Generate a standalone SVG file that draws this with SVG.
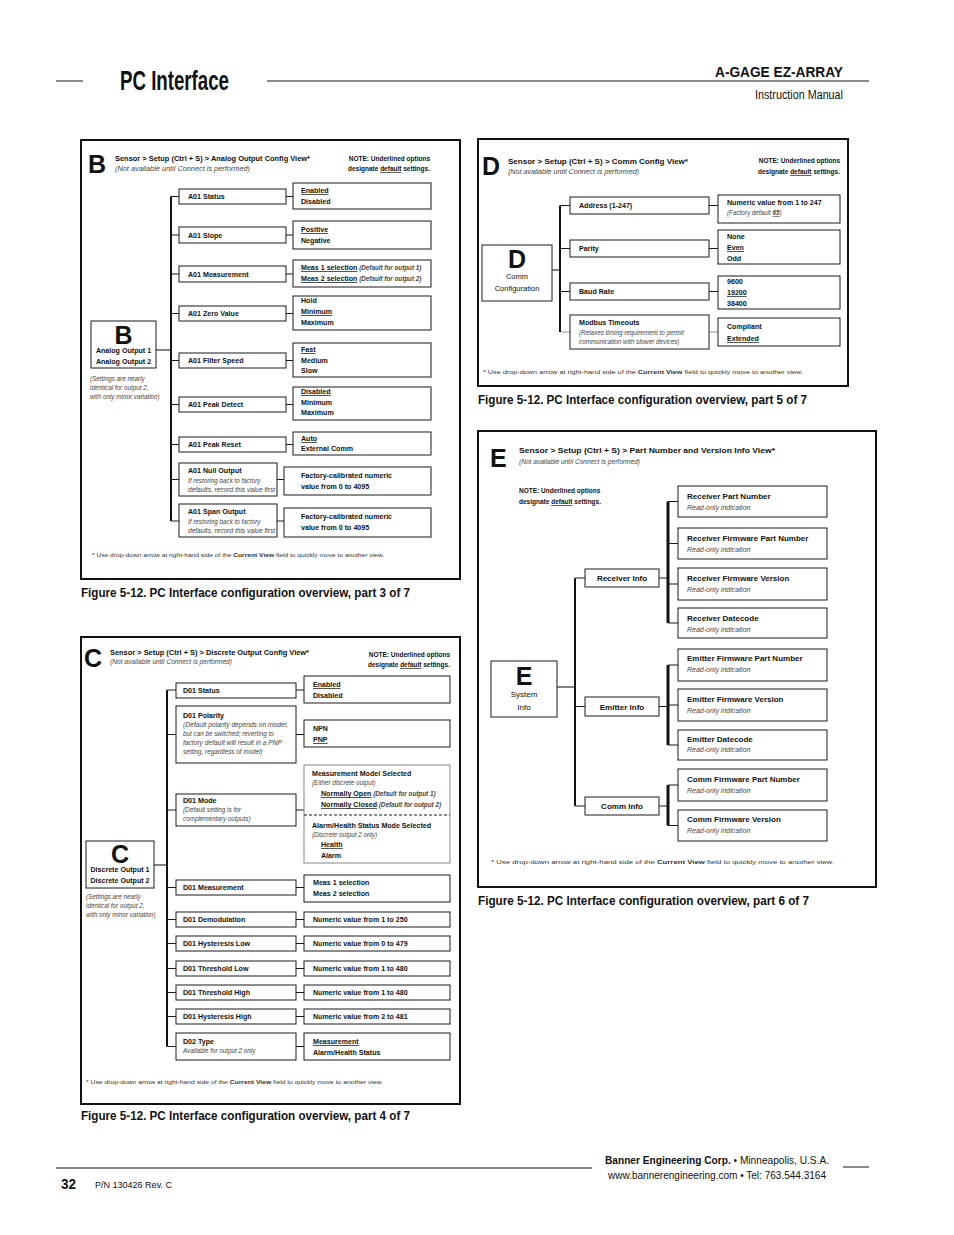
<svg xmlns="http://www.w3.org/2000/svg" width="954" height="1235" viewBox="0 0 954 1235">
<style>
text{font-family:"Liberation Sans",Arial,Helvetica,sans-serif;fill:#111}
.pb{fill:#fff;stroke:#111;stroke-width:2}
.bx{fill:#fff;stroke:#1a1a1a;stroke-width:1}
.gb{fill:#fff;stroke:#888;stroke-width:1}
.ln{stroke:#1a1a1a;stroke-width:1.1;fill:none}
.gl{stroke:#999;stroke-width:1.1;fill:none}
.tk{stroke:#111;stroke-width:2;fill:none}
.tk3{stroke:#111;stroke-width:3;fill:none}
.rule{stroke:#888;stroke-width:2}
.t{font-size:7.1px;font-weight:bold}
.t8{font-size:8px;font-weight:bold}
.i{font-size:6.3px;font-style:italic;fill:#444}
.i7{font-size:7px;font-style:italic;fill:#444}
.h{font-size:6.5px;font-weight:bold}
.big{font-size:25px;font-weight:bold;fill:#111}
.cap{font-size:12.5px;font-weight:bold;fill:#111}
.fn{font-size:5.8px;fill:#333}
.u{text-decoration:underline}
.b{font-weight:bold}
</style>

<!-- Header -->
<g id="header">
<line class="rule" x1="56" y1="81" x2="83" y2="81"/>
<text x="120" y="90" font-size="28" font-weight="bold" textLength="109" lengthAdjust="spacingAndGlyphs">PC Interface</text>
<line class="rule" x1="267" y1="81" x2="869" y2="81"/>
<text x="715" y="77" font-size="15" font-weight="bold" textLength="128" lengthAdjust="spacingAndGlyphs">A-GAGE EZ-ARRAY</text>
<text x="755" y="99" font-size="12" textLength="88" lengthAdjust="spacingAndGlyphs">Instruction Manual</text>
</g>

<!-- ================= Panel B ================= -->
<g id="panelB">
<rect class="pb" x="81" y="140" width="379" height="439"/>
<text class="big" x="88" y="173">B</text>
<text class="h" x="115" y="161" textLength="195" lengthAdjust="spacingAndGlyphs">Sensor &gt; Setup (Ctrl + S) &gt; Analog Output Config View*</text>
<text class="i" x="115" y="171" textLength="135" lengthAdjust="spacingAndGlyphs">(Not available until Connect is performed)</text>
<text class="h" x="430" y="161" text-anchor="end">NOTE: Underlined options</text>
<text class="h" x="430" y="171" text-anchor="end">designate <tspan class="u">default</tspan> settings.</text>
<text class="fn" x="92" y="557" textLength="292" lengthAdjust="spacingAndGlyphs">* Use drop-down arrow at right-hand side of the <tspan class="b">Current View</tspan> field to quickly move to another view.</text>
</g>
<text class="cap" x="81" y="597" textLength="329" lengthAdjust="spacingAndGlyphs">Figure 5-12.  PC Interface configuration overview, part 3 of 7</text>

<g id="connectorsB">
<line class="ln" x1="156" y1="350" x2="171" y2="350"/>
<line class="tk" x1="171" y1="196.5" x2="171" y2="521"/>
<path class="ln" d="M171 196.5H179M286 196.5H293M171 235H179M286 235H293M171 274H179M286 274H293M171 313.5H179M286 313.5H293M171 360.5H179M286 360.5H293M171 404.5H179M286 404.5H293M171 444.5H179M286 444.5H293M171 479.5H179M277 479.5H284M171 521H179M277 521H284"/>
</g>

<g id="B-root">
<rect class="bx" x="91" y="321" width="65" height="47"/>
<text class="big" x="123.5" y="344" text-anchor="middle">B</text>
<text class="t" x="123.5" y="353" text-anchor="middle">Analog Output 1</text>
<text class="t" x="123.5" y="364" text-anchor="middle">Analog Output 2</text>
<text class="i" x="90" y="381">(Settings are nearly</text>
<text class="i" x="90" y="390">identical for output 2,</text>
<text class="i" x="90" y="399">with only minor variation)</text>
</g>
<g id="B-status"><rect class="bx" x="179" y="189" width="107" height="15"/><text class="t" x="188" y="199">A01 Status</text></g>
<g id="B-status-v"><rect class="bx" x="293" y="183" width="138" height="26"/><text class="t" x="301" y="193"><tspan class="u">Enabled</tspan></text><text class="t" x="301" y="204">Disabled</text></g>
<g id="B-slope"><rect class="bx" x="179" y="227" width="107" height="16"/><text class="t" x="188" y="238">A01 Slope</text></g>
<g id="B-slope-v"><rect class="bx" x="293" y="221" width="138" height="28"/><text class="t" x="301" y="232"><tspan class="u">Positive</tspan></text><text class="t" x="301" y="243">Negative</text></g>
<g id="B-meas"><rect class="bx" x="179" y="266" width="107" height="16"/><text class="t" x="188" y="277">A01 Measurement</text></g>
<g id="B-meas-v"><rect class="bx" x="293" y="260" width="138" height="27"/><text class="t" x="301" y="270"><tspan class="u">Meas 1 selection</tspan><tspan class="i" font-size="5.6"> (Default for output 1)</tspan></text><text class="t" x="301" y="281"><tspan class="u">Meas 2 selection</tspan><tspan class="i" font-size="5.6"> (Default for output 2)</tspan></text></g>
<g id="B-zero"><rect class="bx" x="179" y="306" width="107" height="15"/><text class="t" x="188" y="316">A01 Zero Value</text></g>
<g id="B-zero-v"><rect class="bx" x="293" y="296" width="138" height="34"/><text class="t" x="301" y="303">Hold</text><text class="t" x="301" y="314"><tspan class="u">Minimum</tspan></text><text class="t" x="301" y="325">Maximum</text></g>
<g id="B-filter"><rect class="bx" x="179" y="353" width="107" height="15"/><text class="t" x="188" y="363">A01 Filter Speed</text></g>
<g id="B-filter-v"><rect class="bx" x="293" y="343" width="138" height="34"/><text class="t" x="301" y="352"><tspan class="u">Fast</tspan></text><text class="t" x="301" y="363">Medium</text><text class="t" x="301" y="373">Slow</text></g>
<g id="B-peakd"><rect class="bx" x="179" y="397" width="107" height="15"/><text class="t" x="188" y="407">A01 Peak Detect</text></g>
<g id="B-peakd-v"><rect class="bx" x="293" y="387" width="138" height="33"/><text class="t" x="301" y="394"><tspan class="u">Disabled</tspan></text><text class="t" x="301" y="405">Minimum</text><text class="t" x="301" y="415">Maximum</text></g>
<g id="B-peakr"><rect class="bx" x="179" y="437" width="107" height="15"/><text class="t" x="188" y="447">A01 Peak Reset</text></g>
<g id="B-peakr-v"><rect class="bx" x="293" y="432" width="138" height="23"/><text class="t" x="301" y="441"><tspan class="u">Auto</tspan></text><text class="t" x="301" y="451">External Comm</text></g>
<g id="B-null"><rect class="bx" x="179" y="463" width="98" height="33"/><text class="t" x="188" y="473">A01 Null Output</text><text class="i" x="188" y="483">If restoring back to factory</text><text class="i" x="188" y="492" textLength="87" lengthAdjust="spacingAndGlyphs">defaults, record this value first</text></g>
<g id="B-null-v"><rect class="bx" x="284" y="467" width="147" height="28"/><text class="t" x="301" y="478">Factory-calibrated numeric</text><text class="t" x="301" y="489">value from 0 to 4095</text></g>
<g id="B-span"><rect class="bx" x="179" y="504" width="98" height="33"/><text class="t" x="188" y="514">A01 Span Output</text><text class="i" x="188" y="524">If restoring back to factory</text><text class="i" x="188" y="533" textLength="87" lengthAdjust="spacingAndGlyphs">defaults, record this value first</text></g>
<g id="B-span-v"><rect class="bx" x="284" y="508" width="147" height="29"/><text class="t" x="301" y="519">Factory-calibrated numeric</text><text class="t" x="301" y="530">value from 0 to 4095</text></g>

<!-- ================= Panel D ================= -->
<g id="panelD">
<rect class="pb" x="478" y="139" width="370" height="247"/>
<text class="big" x="482" y="175">D</text>
<text class="h" x="508" y="164" textLength="180" lengthAdjust="spacingAndGlyphs">Sensor &gt; Setup (Ctrl + S) &gt; Comm Config View*</text>
<text class="i" x="508" y="174" textLength="131" lengthAdjust="spacingAndGlyphs">(Not available until Connect is performed)</text>
<text class="h" x="840" y="163" text-anchor="end">NOTE: Underlined options</text>
<text class="h" x="840" y="174" text-anchor="end">designate <tspan class="u">default</tspan> settings.</text>
<text class="fn" x="483" y="374" textLength="320" lengthAdjust="spacingAndGlyphs">* Use drop-down arrow at right-hand side of the <tspan class="b">Current View</tspan> field to quickly move to another view.</text>
</g>
<text class="cap" x="478" y="404" textLength="329" lengthAdjust="spacingAndGlyphs">Figure 5-12.  PC Interface configuration overview, part 5 of 7</text>

<g id="connectorsD">
<line class="ln" x1="552" y1="270" x2="560" y2="270"/>
<line class="tk" x1="560" y1="205.5" x2="560" y2="332"/>
<path class="ln" d="M560 205.5H570M709 205.5H718M560 248.5H570M709 248.5H718M560 291.5H570M709 291.5H718"/>
<path class="gl" d="M561 332H570M709 332H718"/>
</g>

<g id="D-root">
<rect class="bx" x="482" y="245" width="70" height="56"/>
<text class="big" x="517" y="268" text-anchor="middle">D</text>
<text x="517" y="279" text-anchor="middle" font-size="7.5">Comm</text>
<text x="517" y="291" text-anchor="middle" font-size="7.5">Configuration</text>
</g>
<g id="D-address"><rect class="bx" x="570" y="197" width="139" height="17"/><text class="t" x="579" y="208" font-size="7.5">Address (1-247)</text></g>
<g id="D-address-v"><rect class="bx" x="718" y="195" width="122" height="28"/><text class="t" x="727" y="205" font-size="7.5">Numeric value from 1 to 247</text><text class="i" x="727" y="215">(Factory default <tspan class="u b">65</tspan>)</text></g>
<g id="D-parity"><rect class="bx" x="570" y="240" width="139" height="17"/><text class="t" x="579" y="251" font-size="7.5">Parity</text></g>
<g id="D-parity-v"><rect class="bx" x="718" y="230" width="122" height="34"/><text class="t" x="727" y="239">None</text><text class="t" x="727" y="250"><tspan class="u">Even</tspan></text><text class="t" x="727" y="261">Odd</text></g>
<g id="D-baud"><rect class="bx" x="570" y="283" width="139" height="17"/><text class="t" x="579" y="294" font-size="7.5">Baud Rate</text></g>
<g id="D-baud-v"><rect class="bx" x="718" y="276" width="122" height="33"/><text class="t" x="727" y="284">9600</text><text class="t" x="727" y="295"><tspan class="u">19200</tspan></text><text class="t" x="727" y="306">38400</text></g>
<g id="D-modbus"><rect class="bx" x="570" y="315" width="139" height="34"/><text class="t" x="579" y="325" font-size="7.5">Modbus Timeouts</text><text class="i" x="579" y="335">(Relaxes timing requirement to permit</text><text class="i" x="579" y="344">communication with slower devices)</text></g>
<g id="D-modbus-v"><rect class="bx" x="718" y="318" width="122" height="28"/><text class="t" x="727" y="329">Compliant</text><text class="t" x="727" y="341"><tspan class="u">Extended</tspan></text></g>

<!-- ================= Panel E ================= -->
<g id="panelE">
<rect class="pb" x="478" y="431" width="398" height="456"/>
<text class="big" x="490" y="467">E</text>
<text class="h" x="519" y="453" font-size="7.3" textLength="256" lengthAdjust="spacingAndGlyphs">Sensor &gt; Setup (Ctrl + S) &gt; Part Number and Version Info View*</text>
<text class="i" x="519" y="464" textLength="121" lengthAdjust="spacingAndGlyphs">(Not available until Connect is performed)</text>
<text class="h" x="519" y="493">NOTE: Underlined options</text>
<text class="h" x="519" y="504">designate <tspan class="u">default</tspan> settings.</text>
<text class="fn" x="491" y="864" textLength="343" lengthAdjust="spacingAndGlyphs">* Use drop-down arrow at right-hand side of the <tspan class="b">Current View</tspan> field to quickly move to another view.</text>
</g>
<text class="cap" x="478" y="905" textLength="331" lengthAdjust="spacingAndGlyphs">Figure 5-12.  PC Interface configuration overview, part 6 of 7</text>

<g id="connectorsE">
<line class="ln" x1="557" y1="687" x2="575" y2="687"/>
<line class="tk" x1="575" y1="578" x2="575" y2="806"/>
<path class="ln" d="M575 578H585M575 706.5H585M575 806H585M659 578H668M659 706.5H668M659 806H668"/>
<line class="tk3" x1="668" y1="501.5" x2="668" y2="623"/>
<line class="tk3" x1="668" y1="665" x2="668" y2="745"/>
<line class="tk3" x1="668" y1="785" x2="668" y2="825.5"/>
<path class="ln" d="M668 501.5H678M668 543.5H678M668 584H678M668 623H678M668 665H678M668 705H678M668 745H678M668 785H678M668 825.5H678"/>
</g>

<g id="E-root">
<rect class="bx" x="491" y="661" width="66" height="56"/>
<text class="big" x="524" y="685" text-anchor="middle">E</text>
<text x="524" y="697" text-anchor="middle" font-size="8">System</text>
<text x="524" y="710" text-anchor="middle" font-size="8">Info</text>
</g>
<g id="E-recv"><rect class="bx" x="585" y="569" width="74" height="18"/><text class="t8" x="622" y="581" text-anchor="middle">Receiver Info</text></g>
<g id="E-emit"><rect class="bx" x="585" y="697" width="74" height="19"/><text class="t8" x="622" y="709.5" text-anchor="middle">Emitter Info</text></g>
<g id="E-comm"><rect class="bx" x="585" y="797" width="74" height="18"/><text class="t8" x="622" y="809" text-anchor="middle">Comm Info</text></g>
<g id="E-rpn"><rect class="bx" x="678" y="486" width="149" height="31"/><text class="t8" x="687" y="499">Receiver Part Number</text><text class="i7" x="687" y="510">Read-only indication</text></g>
<g id="E-rfpn"><rect class="bx" x="678" y="528" width="149" height="31"/><text class="t8" x="687" y="541">Receiver Firmware Part Number</text><text class="i7" x="687" y="552">Read-only indication</text></g>
<g id="E-rfv"><rect class="bx" x="678" y="568" width="149" height="32"/><text class="t8" x="687" y="581">Receiver Firmware Version</text><text class="i7" x="687" y="592">Read-only indication</text></g>
<g id="E-rd"><rect class="bx" x="678" y="608" width="149" height="30"/><text class="t8" x="687" y="621">Receiver Datecode</text><text class="i7" x="687" y="632">Read-only indication</text></g>
<g id="E-efpn"><rect class="bx" x="678" y="649" width="149" height="32"/><text class="t8" x="687" y="661">Emitter Firmware Part Number</text><text class="i7" x="687" y="672">Read-only indication</text></g>
<g id="E-efv"><rect class="bx" x="678" y="689" width="149" height="32"/><text class="t8" x="687" y="702">Emitter Firmware Version</text><text class="i7" x="687" y="713">Read-only indication</text></g>
<g id="E-ed"><rect class="bx" x="678" y="730" width="149" height="30"/><text class="t8" x="687" y="742">Emitter Datecode</text><text class="i7" x="687" y="752">Read-only indication</text></g>
<g id="E-cfpn"><rect class="bx" x="678" y="769" width="149" height="32"/><text class="t8" x="687" y="782">Comm Firmware Part Number</text><text class="i7" x="687" y="793">Read-only indication</text></g>
<g id="E-cfv"><rect class="bx" x="678" y="810" width="149" height="31"/><text class="t8" x="687" y="822">Comm Firmware Version</text><text class="i7" x="687" y="833">Read-only indication</text></g>

<!-- ================= Panel C ================= -->
<g id="panelC">
<rect class="pb" x="81" y="637" width="379" height="467"/>
<text class="big" x="84" y="667">C</text>
<text class="h" x="110" y="655" textLength="199" lengthAdjust="spacingAndGlyphs">Sensor &gt; Setup (Ctrl + S) &gt; Discrete Output Config View*</text>
<text class="i" x="110" y="664" textLength="122" lengthAdjust="spacingAndGlyphs">(Not available until Connect is performed)</text>
<text class="h" x="450" y="657" text-anchor="end">NOTE: Underlined options</text>
<text class="h" x="450" y="667" text-anchor="end">designate <tspan class="u">default</tspan> settings.</text>
<text class="fn" x="86" y="1084" textLength="297" lengthAdjust="spacingAndGlyphs">* Use drop-down arrow at right-hand side of the <tspan class="b">Current View</tspan> field to quickly move to another view.</text>
</g>
<text class="cap" x="81" y="1120" textLength="329" lengthAdjust="spacingAndGlyphs">Figure 5-12.  PC Interface configuration overview, part 4 of 7</text>

<g id="connectorsC">
<line class="ln" x1="154" y1="865" x2="167" y2="865"/>
<line class="tk" x1="167" y1="690" x2="167" y2="1046.5"/>
<path class="ln" d="M167 690H176M296 690H304M167 734.5H176M296 734.5H304M167 810H176M296 810H304M167 887.5H176M296 887.5H304M167 919.5H176M296 919.5H304M167 943.5H176M296 943.5H304M167 968.5H176M296 968.5H304M167 992.5H176M296 992.5H304M167 1016.5H176M296 1016.5H304M167 1046.5H176M296 1046.5H304"/>
</g>

<g id="C-root">
<rect class="bx" x="86" y="841" width="68" height="47"/>
<text class="big" x="120" y="863" text-anchor="middle">C</text>
<text class="t" x="120" y="872" text-anchor="middle">Discrete Output 1</text>
<text class="t" x="120" y="883" text-anchor="middle">Discrete Output 2</text>
<text class="i" x="86" y="899">(Settings are nearly</text>
<text class="i" x="86" y="908">identical for output 2,</text>
<text class="i" x="86" y="917">with only minor variation)</text>
</g>
<g id="C-status"><rect class="bx" x="176" y="683" width="120" height="15"/><text class="t" x="183" y="693">D01 Status</text></g>
<g id="C-status-v"><rect class="bx" x="304" y="676" width="146" height="27"/><text class="t" x="313" y="687"><tspan class="u">Enabled</tspan></text><text class="t" x="313" y="698">Disabled</text></g>
<g id="C-polarity"><rect class="bx" x="176" y="706" width="120" height="57"/><text class="t" x="183" y="718">D01 Polarity</text><text class="i" x="183" y="727" textLength="105" lengthAdjust="spacingAndGlyphs">(Default polarity depends on model,</text><text class="i" x="183" y="736">but can be switched; reverting to</text><text class="i" x="183" y="745" textLength="99" lengthAdjust="spacingAndGlyphs">factory default will result in a PNP</text><text class="i" x="183" y="754">setting, regardless of model)</text></g>
<g id="C-polarity-v"><rect class="bx" x="304" y="720" width="146" height="27"/><text class="t" x="313" y="731">NPN</text><text class="t" x="313" y="742"><tspan class="u">PNP</tspan></text></g>
<g id="C-mode"><rect class="bx" x="176" y="794" width="120" height="32"/><text class="t" x="183" y="803">D01 Mode</text><text class="i" x="183" y="812">(Default setting is for</text><text class="i" x="183" y="821">complementary outputs)</text></g>
<g id="C-mode-v"><rect class="gb" x="304" y="765" width="146" height="98"/>
<text class="t" x="312" y="776">Measurement Model Selected</text>
<text class="i" x="312" y="785">(Either discrete output)</text>
<text class="t" x="321" y="796"><tspan class="u">Normally Open</tspan><tspan class="i" font-size="5.6"> (Default for output 1)</tspan></text>
<text class="t" x="321" y="807"><tspan class="u">Normally Closed</tspan><tspan class="i" font-size="5.6"> (Default for output 2)</tspan></text>
<line x1="304" y1="815" x2="450" y2="815" stroke="#1a1a1a" stroke-width="1" stroke-dasharray="3,2"/>
<text class="t" x="312" y="828">Alarm/Health Status Mode Selected</text>
<text class="i" x="312" y="837">(Discrete output 2 only)</text>
<text class="t" x="321" y="847"><tspan class="u">Health</tspan></text>
<text class="t" x="321" y="858">Alarm</text></g>
<g id="C-meas"><rect class="bx" x="176" y="880" width="120" height="15"/><text class="t" x="183" y="890">D01 Measurement</text></g>
<g id="C-meas-v"><rect class="bx" x="304" y="875" width="146" height="27"/><text class="t" x="313" y="885">Meas 1 selection</text><text class="t" x="313" y="896">Meas 2 selection</text></g>
<g id="C-demod"><rect class="bx" x="176" y="912" width="120" height="15"/><text class="t" x="183" y="922">D01 Demodulation</text></g>
<g id="C-demod-v"><rect class="bx" x="304" y="912" width="146" height="15"/><text class="t" x="313" y="922">Numeric value from 1 to 250</text></g>
<g id="C-hystl"><rect class="bx" x="176" y="936" width="120" height="15"/><text class="t" x="183" y="946">D01 Hysteresis Low</text></g>
<g id="C-hystl-v"><rect class="bx" x="304" y="936" width="146" height="15"/><text class="t" x="313" y="946">Numeric value from 0 to 479</text></g>
<g id="C-thrl"><rect class="bx" x="176" y="961" width="120" height="15"/><text class="t" x="183" y="971">D01 Threshold Low</text></g>
<g id="C-thrl-v"><rect class="bx" x="304" y="961" width="146" height="15"/><text class="t" x="313" y="971">Numeric value from 1 to 480</text></g>
<g id="C-thrh"><rect class="bx" x="176" y="985" width="120" height="15"/><text class="t" x="183" y="995">D01 Threshold High</text></g>
<g id="C-thrh-v"><rect class="bx" x="304" y="985" width="146" height="15"/><text class="t" x="313" y="995">Numeric value from 1 to 480</text></g>
<g id="C-hysth"><rect class="bx" x="176" y="1009" width="120" height="15"/><text class="t" x="183" y="1019">D01 Hysteresis High</text></g>
<g id="C-hysth-v"><rect class="bx" x="304" y="1009" width="146" height="15"/><text class="t" x="313" y="1019">Numeric value from 2 to 481</text></g>
<g id="C-type"><rect class="bx" x="176" y="1033" width="120" height="27"/><text class="t" x="183" y="1044">D02 Type</text><text class="i" x="183" y="1053">Available for output 2 only</text></g>
<g id="C-type-v"><rect class="bx" x="304" y="1033" width="146" height="27"/><text class="t" x="313" y="1044"><tspan class="u">Measurement</tspan></text><text class="t" x="313" y="1055">Alarm/Health Status</text></g>

<!-- Footer -->
<g id="footer">
<line class="rule" x1="56" y1="1168" x2="592" y2="1168"/>
<line class="rule" x1="843" y1="1167" x2="869" y2="1167"/>
<text x="61" y="1189" font-size="14" font-weight="bold" textLength="15" lengthAdjust="spacingAndGlyphs">32</text>
<text x="95" y="1188" font-size="8.5" textLength="77" lengthAdjust="spacingAndGlyphs">P/N 130426 Rev. C</text>
<text x="605" y="1164" font-size="10.5" textLength="224" lengthAdjust="spacingAndGlyphs"><tspan font-weight="bold">Banner Engineering Corp.</tspan> • Minneapolis, U.S.A.</text>
<text x="608" y="1179" font-size="10" textLength="218" lengthAdjust="spacingAndGlyphs">www.bannerengineering.com  •  Tel: 763.544.3164</text>
</g>
</svg>
